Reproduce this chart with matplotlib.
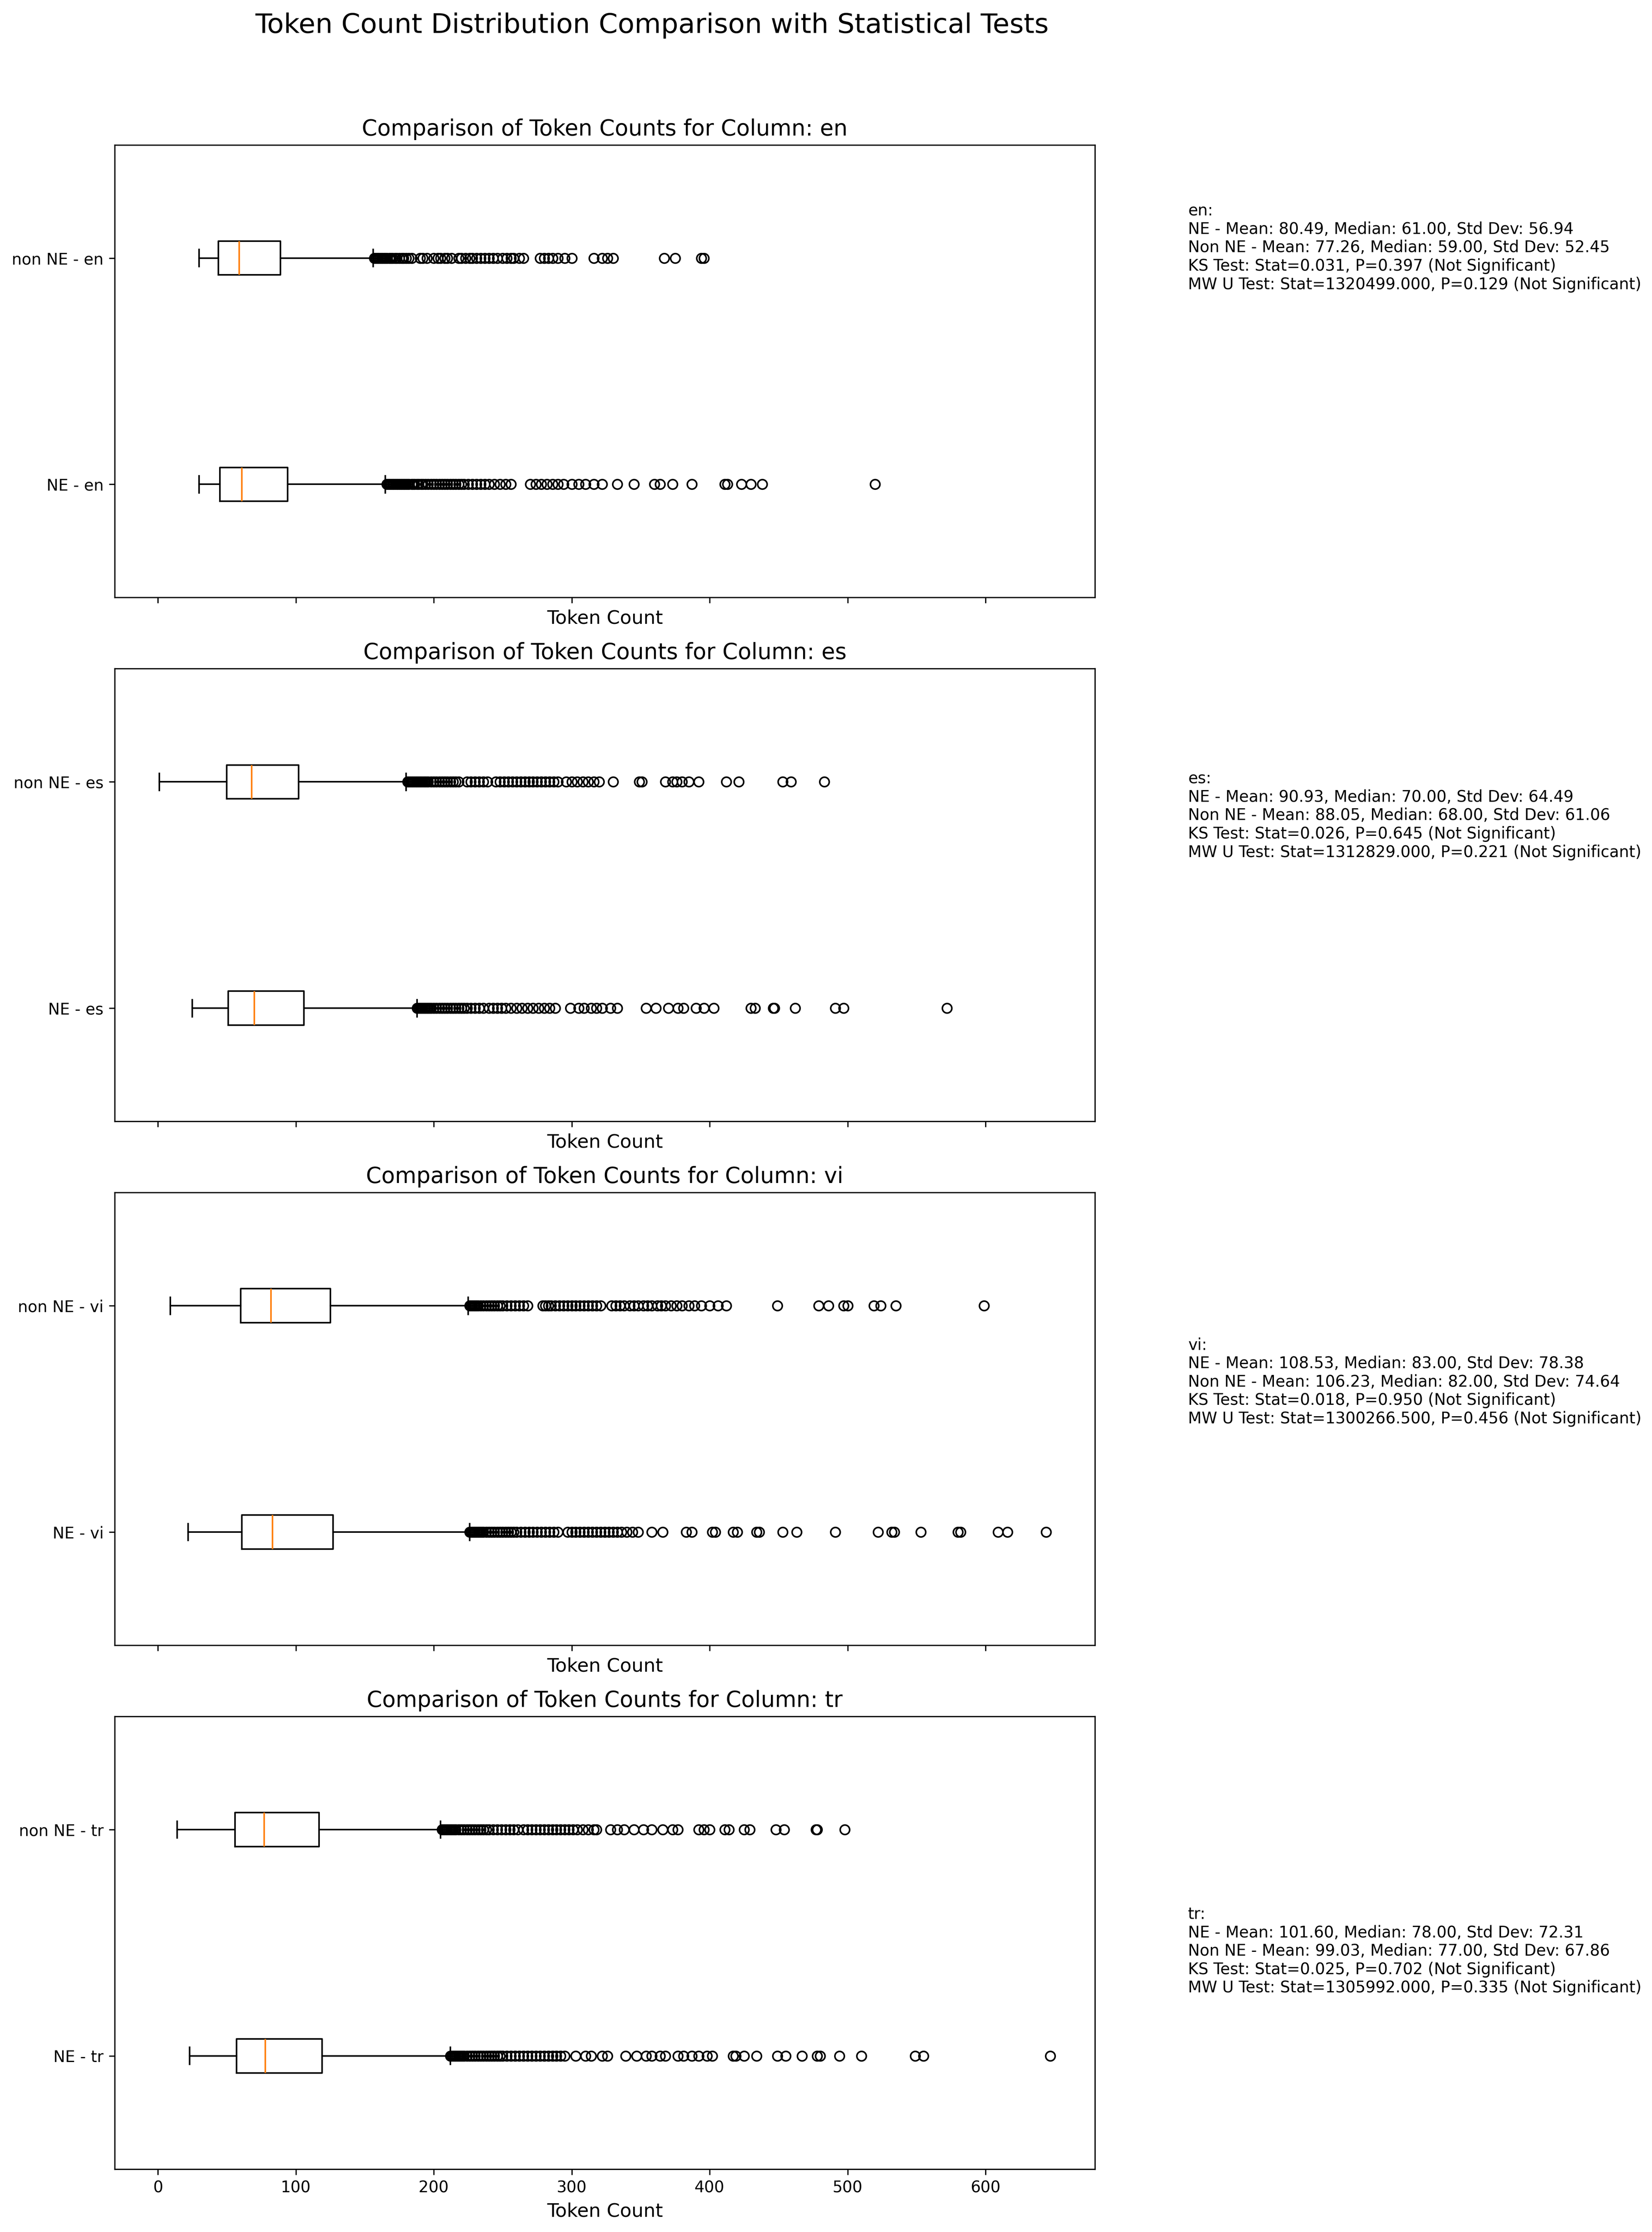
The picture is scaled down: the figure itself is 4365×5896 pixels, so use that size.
import matplotlib
matplotlib.use('Agg')
import matplotlib.pyplot as plt

languages = ['en', 'es', 'vi', 'tr']

# Box statistics (NE group)
ne_whislo = [30, 25, 22, 23]
ne_q1 = [45, 51, 61, 57]
ne_med = [61, 70, 83, 78]
ne_q3 = [94, 106, 127, 119]
ne_whishi = [165, 188, 226, 212]

# Box statistics (non NE group)
non_whislo = [30, 1, 9, 14]
non_q1 = [44, 50, 60, 56]
non_med = [59, 68, 82, 77]
non_q3 = [89, 102, 125, 117]
non_whishi = [156, 180, 225, 205]

# Outliers
en_ne_fliers = [166, 167, 168, 169, 170, 171, 172, 173, 174, 175, 176, 177, 178, 179, 180, 181, 182, 184, 185, 186,
                188, 189, 191, 192, 194, 196, 198, 200, 202, 204, 206, 208, 210, 212, 214, 216, 218, 220, 222, 225,
                228, 231, 234, 237, 240, 244, 248, 252, 256, 270, 274, 278, 282, 286, 290, 294, 300, 305, 310, 316,
                322, 333, 345, 360, 364, 373, 387, 411, 413, 423, 430, 438, 520]
en_non_fliers = [157, 158, 159, 160, 161, 162, 163, 164, 165, 166, 168, 169, 170, 172, 173, 175, 177, 178, 180, 182,
                 184, 190, 192, 195, 200, 203, 205, 208, 210, 213, 218, 220, 223, 226, 228, 231, 234, 237, 240, 243,
                 246, 250, 253, 256, 258, 262, 265, 277, 280, 283, 286, 290, 295, 300, 316, 322, 326, 330, 367, 375,
                 394, 396]
es_ne_fliers = [188, 189, 190, 191, 192, 193, 194, 195, 196, 197, 198, 200, 202, 204, 206, 208, 210, 212, 214, 216,
                218, 220, 222, 224, 227, 230, 233, 236, 240, 243, 246, 249, 252, 256, 260, 264, 268, 272, 276, 280,
                284, 288, 299, 305, 309, 314, 318, 322, 328, 333, 354, 361, 370, 377, 381, 390, 396, 403, 430, 433,
                446, 447, 462, 491, 497, 572]
es_non_fliers = [181, 182, 183, 184, 185, 186, 187, 188, 189, 190, 191, 192, 193, 194, 195, 196, 198, 200, 202, 204,
                 206, 208, 210, 212, 214, 216, 218, 224, 227, 230, 233, 236, 239, 245, 248, 251, 254, 257, 260, 263,
                 266, 269, 272, 275, 278, 281, 284, 287, 290, 296, 300, 304, 308, 312, 316, 320, 330, 349, 351, 368,
                 373, 376, 380, 385, 392, 412, 421, 453, 459, 483]
vi_ne_fliers = [226, 227, 228, 229, 230, 231, 232, 233, 234, 235, 236, 238, 240, 242, 244, 246, 248, 250, 252, 254,
                256, 258, 260, 263, 266, 269, 272, 275, 278, 281, 284, 287, 290, 297, 300, 303, 306, 309, 312, 315,
                318, 321, 324, 327, 330, 333, 336, 340, 344, 348, 358, 366, 383, 387, 402, 404, 417, 420, 434, 436,
                453, 463, 491, 522, 532, 534, 553, 580, 582, 609, 616, 644]
vi_non_fliers = [226, 227, 228, 229, 230, 231, 232, 234, 236, 238, 240, 242, 244, 246, 248, 250, 253, 256, 259, 262,
                 265, 268, 279, 281, 283, 285, 288, 291, 294, 297, 300, 303, 306, 309, 312, 315, 318, 321, 329, 332,
                 335, 338, 342, 345, 348, 352, 355, 358, 362, 365, 368, 372, 376, 380, 385, 389, 394, 400, 406, 412,
                 449, 479, 486, 497, 500, 519, 524, 535, 599]
tr_ne_fliers = [212, 213, 214, 215, 216, 217, 218, 219, 220, 221, 222, 224, 226, 228, 230, 232, 234, 236, 238, 240,
                242, 244, 246, 248, 250, 253, 256, 259, 262, 265, 268, 271, 274, 277, 280, 283, 286, 289, 292, 295,
                303, 310, 314, 322, 326, 339, 347, 354, 358, 364, 368, 377, 381, 387, 392, 398, 402, 417, 419, 425,
                434, 449, 455, 467, 478, 480, 494, 510, 549, 555, 647]
tr_non_fliers = [206, 207, 208, 209, 210, 211, 212, 213, 214, 215, 216, 218, 220, 222, 224, 226, 228, 230, 232, 234,
                 236, 238, 240, 243, 246, 249, 252, 255, 258, 261, 265, 268, 271, 274, 277, 280, 283, 286, 289, 292,
                 295, 298, 301, 304, 308, 312, 316, 318, 328, 333, 338, 345, 352, 358, 366, 373, 377, 392, 396, 400,
                 411, 414, 425, 429, 448, 454, 477, 478, 498]

ne_fliers = [en_ne_fliers, es_ne_fliers, vi_ne_fliers, tr_ne_fliers]
non_fliers = [en_non_fliers, es_non_fliers, vi_non_fliers, tr_non_fliers]

# Summary statistics shown in the text
ne_mean = ['80.49', '90.93', '108.53', '101.60']
ne_median = ['61.00', '70.00', '83.00', '78.00']
ne_std = ['56.94', '64.49', '78.38', '72.31']
non_mean = ['77.26', '88.05', '106.23', '99.03']
non_median = ['59.00', '68.00', '82.00', '77.00']
non_std = ['52.45', '61.06', '74.64', '67.86']
ks_stat = ['0.031', '0.026', '0.018', '0.025']
ks_p = ['0.397', '0.645', '0.950', '0.702']
mw_stat = ['1320499.000', '1312829.000', '1300266.500', '1305992.000']
mw_p = ['0.129', '0.221', '0.456', '0.335']

W, H = 4365, 5896
fig = plt.figure(figsize=(W / 300, H / 300), dpi=300)

ax_left = 0.0694
ax_width = 0.5934
ax_height = 0.2028
bottoms = [0.7323, 0.4976, 0.2629, 0.0282]
text_y = [0.889, 0.6346, 0.3808, 0.1258]

axes = []
for i, lang in enumerate(languages):
    if i == 0:
        ax = fig.add_axes([ax_left, bottoms[i], ax_width, ax_height])
    else:
        ax = fig.add_axes([ax_left, bottoms[i], ax_width, ax_height], sharex=axes[0])
    axes.append(ax)
    stats = [
        dict(whislo=ne_whislo[i], q1=ne_q1[i], med=ne_med[i], q3=ne_q3[i], whishi=ne_whishi[i],
             fliers=ne_fliers[i], label=f'NE - {lang}'),
        dict(whislo=non_whislo[i], q1=non_q1[i], med=non_med[i], q3=non_q3[i], whishi=non_whishi[i],
             fliers=non_fliers[i], label=f'non NE - {lang}'),
    ]
    try:
        ax.bxp(stats, positions=[1, 2], orientation='horizontal')
    except TypeError:
        ax.bxp(stats, positions=[1, 2], vert=False)
    ax.set_ylim(0.5, 2.5)
    ax.set_title(f'Comparison of Token Counts for Column: {lang}', fontsize=14)
    ax.set_xlabel('Token Count', fontsize=12)
    if i < len(languages) - 1:
        ax.tick_params(labelbottom=False)

    txt = (f"{lang}:\n"
           f"NE - Mean: {ne_mean[i]}, Median: {ne_median[i]}, Std Dev: {ne_std[i]}\n"
           f"Non NE - Mean: {non_mean[i]}, Median: {non_median[i]}, Std Dev: {non_std[i]}\n"
           f"KS Test: Stat={ks_stat[i]}, P={ks_p[i]} (Not Significant)\n"
           f"MW U Test: Stat={mw_stat[i]}, P={mw_p[i]} (Not Significant)")
    fig.text(0.7192, text_y[i], txt, fontsize=10, ha='left', va='center')

axes[0].autoscale(axis='x')
fig.text(0.3946, 0.9885, 'Token Count Distribution Comparison with Statistical Tests',
         fontsize=17.3, ha='center', va='center')

fig.savefig('out.png', dpi=300)
